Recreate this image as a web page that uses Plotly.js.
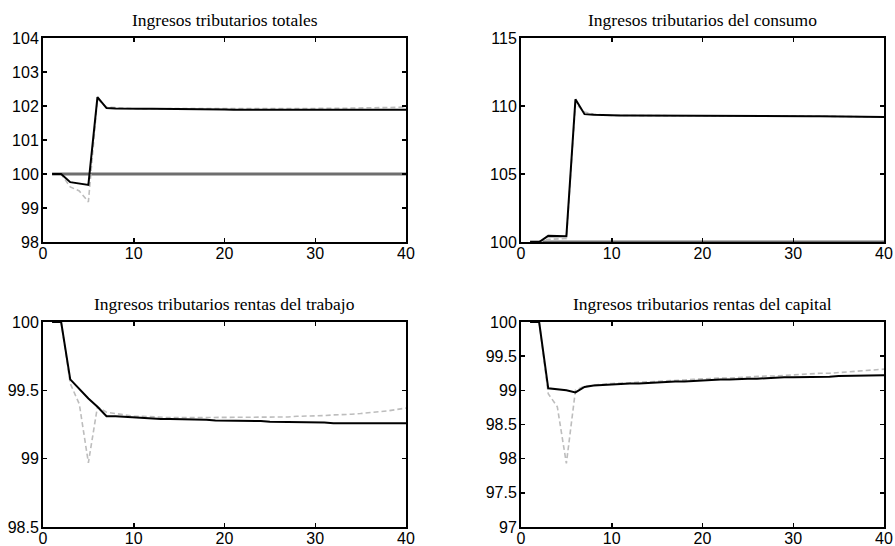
<!DOCTYPE html>
<html>
<head>
<meta charset="utf-8">
<script src="https://cdn.plot.ly/plotly-3.0.1.min.js"></script>
<style>html,body{margin:0;padding:0;background:#fff;}#chart{width:895px;height:546px;}</style>
</head>
<body>
<div id="chart"></div>
<script>
const periods = Array.from({length: 40}, (_, i) => i + 1);
const titles = [
  "Ingresos tributarios totales",
  "Ingresos tributarios del consumo",
  "Ingresos tributarios rentas del trabajo",
  "Ingresos tributarios rentas del capital"
];
const baseline = [100,100,100,100,100,100,100,100,100,100,100,100,100,100,100,100,100,100,100,100,100,100,100,100,100,100,100,100,100,100,100,100,100,100,100,100,100,100,100,100];

// Ingresos tributarios totales
const totalSolid = [100,100,99.76,99.72,99.68,102.26,101.94,101.93,101.92,101.92,101.92,101.92,101.92,101.91,101.91,101.91,101.91,101.91,101.90,101.90,101.89,101.89,101.89,101.89,101.89,101.89,101.89,101.89,101.89,101.89,101.89,101.89,101.89,101.89,101.89,101.89,101.89,101.89,101.89,101.89];
const totalDashed = [100,100,99.62,99.50,99.18,102.20,101.97,101.95,101.93,101.92,101.92,101.92,101.92,101.92,101.91,101.91,101.91,101.91,101.91,101.91,101.91,101.91,101.91,101.91,101.92,101.92,101.92,101.92,101.92,101.93,101.93,101.93,101.93,101.94,101.94,101.94,101.95,101.95,101.96,101.97];

// Ingresos tributarios del consumo
const consSolid = [100,100,100.45,100.45,100.42,110.50,109.40,109.35,109.32,109.30,109.30,109.30,109.30,109.30,109.30,109.30,109.29,109.26,109.25,109.25,109.25,109.25,109.25,109.25,109.25,109.25,109.25,109.25,109.25,109.25,109.25,109.25,109.24,109.23,109.21,109.20,109.20,109.20,109.20,109.20];
const consDashed = [100,100,100.20,100.25,100.25,110.20,109.55,109.40,109.33,109.30,109.30,109.30,109.30,109.30,109.30,109.30,109.29,109.27,109.26,109.26,109.26,109.26,109.26,109.26,109.26,109.26,109.26,109.26,109.26,109.26,109.26,109.26,109.25,109.24,109.22,109.21,109.21,109.21,109.21,109.21];

// Ingresos tributarios rentas del trabajo
const labSolid = [100,100,99.58,99.51,99.44,99.38,99.31,99.31,99.305,99.30,99.30,99.295,99.29,99.29,99.29,99.29,99.29,99.285,99.28,99.28,99.28,99.28,99.275,99.275,99.27,99.27,99.27,99.27,99.27,99.27,99.265,99.26,99.26,99.26,99.26,99.26,99.26,99.26,99.26,99.26];
const labDashed = [100,100,99.55,99.40,98.97,99.38,99.34,99.33,99.32,99.31,99.31,99.305,99.30,99.30,99.30,99.30,99.30,99.30,99.30,99.30,99.30,99.30,99.30,99.30,99.30,99.30,99.305,99.31,99.31,99.31,99.315,99.32,99.32,99.325,99.33,99.335,99.34,99.35,99.36,99.37];

// Ingresos tributarios rentas del capital
const capSolid = [100,100,99.03,99.02,99.00,98.97,99.05,99.07,99.08,99.08,99.09,99.10,99.10,99.11,99.11,99.12,99.13,99.13,99.14,99.15,99.15,99.16,99.16,99.17,99.17,99.17,99.18,99.18,99.19,99.19,99.19,99.20,99.20,99.20,99.21,99.21,99.21,99.22,99.22,99.22];
const capDashed = [100,100,98.95,98.76,97.93,99.00,99.06,99.08,99.09,99.10,99.10,99.11,99.12,99.12,99.13,99.14,99.14,99.15,99.16,99.17,99.17,99.18,99.18,99.19,99.20,99.20,99.21,99.21,99.22,99.23,99.23,99.24,99.25,99.25,99.26,99.27,99.28,99.29,99.30,99.31];

const yRanges = [[98,104],[100,115],[98.5,100],[97,100]];
const yDticks = [1,5,0.5,0.5];
const xTicks = [0,10,20,30,40];
const showBaseline = [true, true, false, false];

const solids = [totalSolid, consSolid, labSolid, capSolid];
const dasheds = [totalDashed, consDashed, labDashed, capDashed];

const W = 895, H = 546;
const xDom = [[43/W, 406/W],[521/W, 884/W],[43/W, 406/W],[521/W, 884/W]];
const yDom = [[(H-242)/H,(H-38)/H],[(H-242)/H,(H-38)/H],[(H-527)/H,(H-322)/H],[(H-527)/H,(H-322)/H]];
const titleY = [20,20,304,304];

const traces = [];
const layout = {
  width: W, height: H,
  margin: {l:0, r:0, t:0, b:0},
  paper_bgcolor: '#fff', plot_bgcolor: '#fff',
  showlegend: false,
  annotations: []
};
for (let i = 0; i < 4; i++) {
  const s = i === 0 ? '' : String(i + 1);
  const xa = 'x' + s, ya = 'y' + s;
  if (showBaseline[i]) {
    traces.push({x: periods, y: baseline, xaxis: xa, yaxis: ya, mode: 'lines',
      line: {color: '#6e6e6e', width: 3}, hoverinfo: 'skip'});
  }
  traces.push({x: periods, y: dasheds[i], xaxis: xa, yaxis: ya, mode: 'lines',
    line: {color: '#bdbdbd', width: 1.6, dash: '5px,3px'}, hoverinfo: 'skip'});
  traces.push({x: periods, y: solids[i], xaxis: xa, yaxis: ya, mode: 'lines',
    line: {color: '#000', width: 2}, hoverinfo: 'skip'});
  const common = {showgrid: false, zeroline: false, showline: true, linecolor: '#000', linewidth: 2,
    ticks: 'inside', ticklen: 4, tickwidth: 1.5, tickcolor: '#000', mirror: 'allticks',
    tickfont: {family: 'Liberation Sans, Arial, sans-serif', size: 16, color: '#000'}};
  layout['xaxis' + s] = Object.assign({}, common, {domain: xDom[i], anchor: ya, range: [0, 40],
    tickmode: 'array', tickvals: xTicks, ticktext: xTicks.map(String), ticklabelstandoff: -4});
  layout['yaxis' + s] = Object.assign({}, common, {domain: yDom[i], anchor: xa, range: yRanges[i],
    tick0: yRanges[i][0], dtick: yDticks[i], ticklabelstandoff: -1});
  layout.annotations.push({text: titles[i], xref: 'paper', yref: 'paper', showarrow: false,
    x: (xDom[i][0] + xDom[i][1]) / 2, y: 1 - titleY[i] / H, xanchor: 'center', yanchor: 'middle',
    font: {family: 'Liberation Serif, Times New Roman, serif', size: 17.5, color: '#000'}});
}
Plotly.newPlot('chart', traces, layout, {staticPlot: true});
</script>
</body>
</html>
